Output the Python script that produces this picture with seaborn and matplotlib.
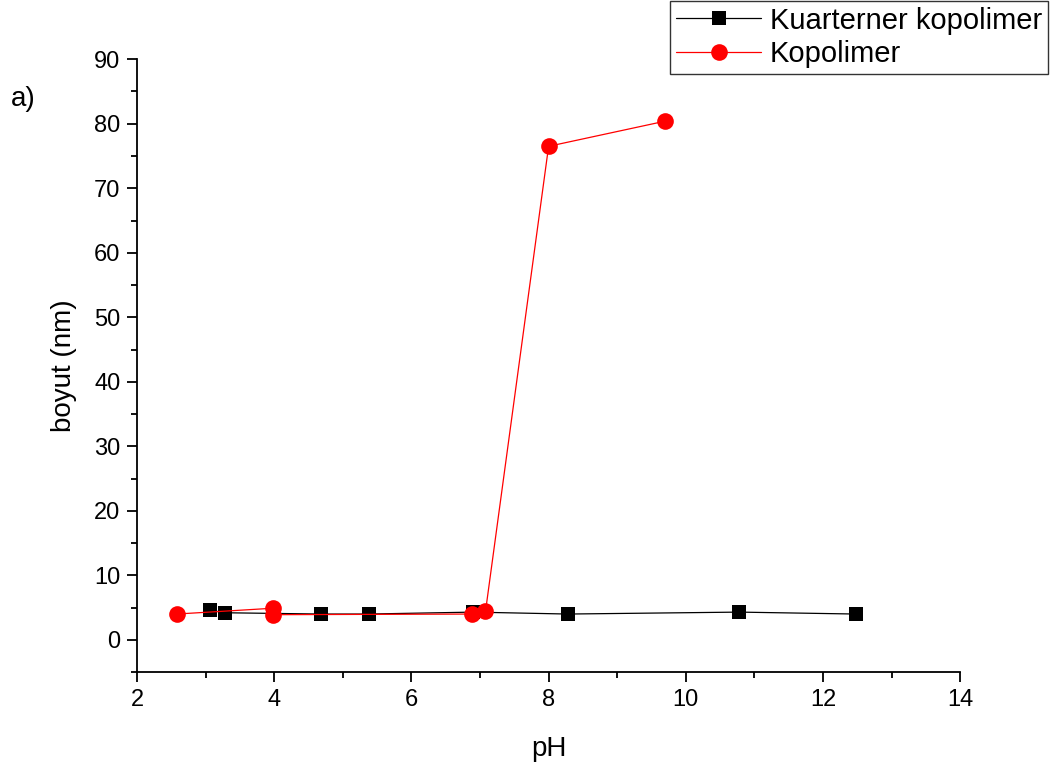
import matplotlib
matplotlib.use("Agg")
import matplotlib.pyplot as plt
import seaborn as sns
import pandas as pd
from matplotlib.ticker import MultipleLocator

# pH series and measured particle sizes (nm)
ph_kuarterner = [3.06, 3.28, 4.68, 5.38, 6.90, 8.28, 10.78, 12.48]
boyut_kuarterner = [4.6, 4.2, 4.0, 4.0, 4.3, 4.0, 4.3, 4.0]

ph_kopolimer = [2.58, 3.98, 3.98, 6.88, 7.08, 8.00, 9.70]
boyut_kopolimer = [4.0, 4.9, 3.9, 4.0, 4.4, 76.5, 80.4]

series_names = ["Kuarterner kopolimer", "Kopolimer"]

sns.set_style("ticks")
plt.rcParams["font.family"] = ["Liberation Sans", "DejaVu Sans"]
plt.rcParams["text.color"] = "black"
plt.rcParams["axes.labelcolor"] = "black"

fig = plt.figure(figsize=(10.54, 7.69), dpi=100)
ax = fig.add_axes([0.130, 0.126, 0.781, 0.797])

df_k = pd.DataFrame({"pH": ph_kuarterner, "boyut": boyut_kuarterner})
df_p = pd.DataFrame({"pH": ph_kopolimer, "boyut": boyut_kopolimer})

sns.lineplot(data=df_k, x="pH", y="boyut", ax=ax, sort=False, estimator=None,
             color="black", marker="s", markersize=10, markeredgewidth=0,
             linewidth=0.9, label=series_names[0], zorder=2)
sns.lineplot(data=df_p, x="pH", y="boyut", ax=ax, sort=False, estimator=None,
             color="#ff0000", marker="o", markersize=12, markeredgewidth=0,
             linewidth=0.9, label=series_names[1], zorder=3)

ax.set_xlim(2, 14)
ax.set_ylim(-5, 90)
ax.xaxis.set_major_locator(MultipleLocator(2))
ax.xaxis.set_minor_locator(MultipleLocator(1))
ax.yaxis.set_minor_locator(MultipleLocator(5))
ax.set_yticks(range(0, 91, 10))

for side in ("top", "right"):
    ax.spines[side].set_visible(False)
for side in ("left", "bottom"):
    ax.spines[side].set_linewidth(1.3)
    ax.spines[side].set_color("black")

ax.tick_params(axis="both", which="major", direction="out", length=7, width=1.3,
               labelsize=17, colors="black", pad=5)
ax.tick_params(axis="both", which="minor", direction="out", length=4, width=1.3,
               colors="black")

ax.set_xlabel("pH", fontsize=20, labelpad=18)
ax.set_ylabel("boyut (nm)", fontsize=20, labelpad=12)

fig.text(0.010, 0.862, "a)", fontsize=20)

leg = ax.legend(loc="upper right", bbox_to_anchor=(0.994, 0.999),
                bbox_transform=fig.transFigure, fontsize=21, frameon=True,
                fancybox=False, handlelength=2.9, handletextpad=0.3,
                borderpad=0.2, labelspacing=0.2, borderaxespad=0)
leg.get_frame().set_edgecolor("black")
leg.get_frame().set_linewidth(1.0)

fig.savefig("out.png", dpi=100, facecolor="white")
